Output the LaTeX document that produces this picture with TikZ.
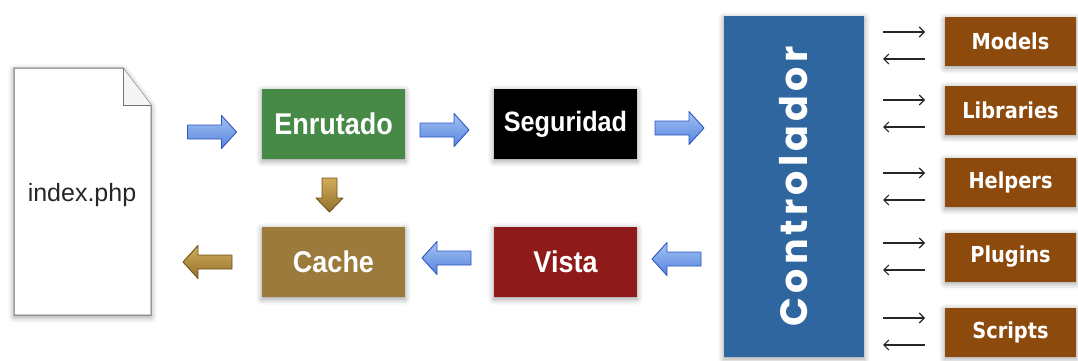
\documentclass[tikz,border=0pt]{standalone}
\usepackage{fontspec}
\setmainfont{Liberation Sans}
\newfontfamily\ctrlfont[LetterSpace=11]{Poppins}
\newfontfamily\modfont[FakeStretch=0.88]{DejaVu Sans}
\newfontfamily\boxfont[FakeStretch=0.9]{Liberation Sans}
\usetikzlibrary{arrows.meta,shadows.blur,calc}
\definecolor{cgreen}{HTML}{478A47}
\definecolor{ccache}{HTML}{9B7A3B}
\definecolor{cvista}{HTML}{8E1B1A}
\definecolor{cctrl}{HTML}{2F66A0}
\definecolor{cmod}{HTML}{8C4A0C}
\definecolor{bluetop}{HTML}{A4C2F4}
\definecolor{bluebot}{HTML}{5684DC}
\definecolor{blueedge}{HTML}{2C55C0}
\definecolor{browntop}{HTML}{D2AC5C}
\definecolor{brownbot}{HTML}{93702C}
\definecolor{brownedge}{HTML}{6E5018}
\tikzset{
  shad/.style={blur shadow={shadow xshift=0pt, shadow yshift=-2pt, shadow blur radius=6pt, shadow opacity=40}},
  box/.style={rectangle, inner sep=0pt, text=white, minimum width=143pt, minimum height=70pt, shad},
  bigtxt/.style={font=\boxfont\bfseries\fontsize{30}{30}\selectfont},
  modbox/.style={rectangle, inner sep=0pt, fill=cmod, text=white, minimum width=131pt, minimum height=49pt, shad,
    font=\modfont\bfseries\fontsize{22}{22}\selectfont},
  bluearr/.style={top color=bluetop, bottom color=bluebot, draw=blueedge, line width=0.9pt, line join=round},
  brownarr/.style={top color=browntop, bottom color=brownbot, draw=brownedge, line width=0.9pt, line join=round},
  thinarr/.style={draw=black!85, line width=1.1pt, -{Straight Barb[length=5pt,width=10pt]}},
  blockarrow/.pic={\path[pic actions] (-24.5,-7) -- (9.5,-7) -- (9.5,-16.5) -- (24.5,0) -- (9.5,16.5) -- (9.5,7) -- (-24.5,7) -- cycle;},
  smallarrow/.pic={\path[pic actions] (-17,-7.5) -- (3,-7.5) -- (3,-13.5) -- (17,0) -- (3,13.5) -- (3,7.5) -- (-17,7.5) -- cycle;}
}
\begin{document}
\begin{tikzpicture}[x=1pt,y=-1pt]
\useasboundingbox (0,0) rectangle (1078,360);

% index.php page
\coordinate (pnw) at (14,68);
\coordinate (pfold) at (123,68);
\coordinate (pfe) at (151,105);
\coordinate (pfc) at (123,105);
\coordinate (pse) at (151,315);
\coordinate (psw) at (14,315);
\path[shad, fill=white, draw=black!55, line width=1pt]
  (pnw) -- (pfold) -- (pfe) -- (pse) -- (psw) -- cycle;
\draw[black!55, line width=1pt, fill=black!4] (pfold) -- (pfc) -- (pfe);
\node[text=black!85, font=\fontsize{25}{25}\selectfont] (idx) at (82,195) {index.php};

% main boxes
\node[box, fill=cgreen, bigtxt] (enr) at (333.5,124) {Enrutado};
\node[box, fill=ccache, bigtxt] (cache) at (333.5,262) {Cache};
\node[box, fill=black, font=\boxfont\bfseries\fontsize{28}{28}\selectfont] (seg) at (565.5,124) {Seguridad};
\node[box, fill=cvista, bigtxt] (vista) at (565.5,262) {Vista};

% controller
\node[rectangle, inner sep=0pt, fill=cctrl, text=white, rotate=90,
  minimum width=341pt, minimum height=140pt, shad,
  font=\ctrlfont\bfseries\fontsize{38}{38}\selectfont] (ctrl) at (794,186.5) {Controlador};

% right boxes
\node[modbox] (mod) at (1010.5,41.5) {Models};
\node[modbox] (lib) at (1010.5,110) {Libraries};
\node[modbox] (hel) at (1010.5,182.5) {Helpers};
\node[modbox] (plu) at (1010.5,257) {Plugins};
\node[modbox] (scr) at (1010.5,332) {Scripts};

% block arrows
\pic[bluearr] at (212,132) {blockarrow};
\pic[bluearr] at (444.5,130) {blockarrow};
\pic[bluearr] at (679.5,128) {blockarrow};
\pic[bluearr, rotate=180] at (676.5,259) {blockarrow};
\pic[bluearr, rotate=180] at (446.5,258) {blockarrow};
\pic[brownarr, rotate=180] at (207.5,262) {blockarrow};
\pic[brownarr, rotate=-90] at (329.5,195) {smallarrow};

% thin arrows
\foreach \n/\ya/\yb in {mod/32/59, lib/100/127, hel/173/200, plu/243/270, scr/318/345} {
  \coordinate (\n-a) at (883,\ya);
  \coordinate (\n-b) at (925,\ya);
  \coordinate (\n-c) at (925,\yb);
  \coordinate (\n-d) at (883,\yb);
  \draw[thinarr] (\n-a) -- (\n-b);
  \draw[thinarr] (\n-c) -- (\n-d);
}
\end{tikzpicture}
\end{document}
